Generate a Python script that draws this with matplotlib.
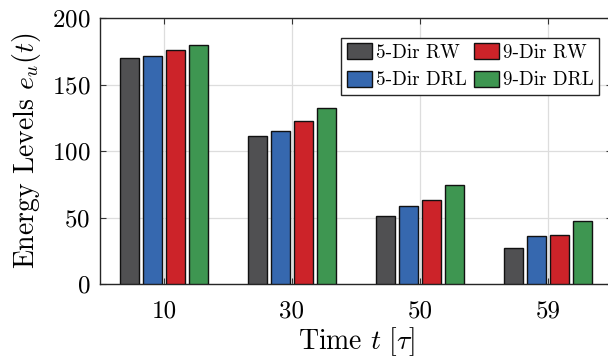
import matplotlib
matplotlib.use("Agg")
import matplotlib.pyplot as plt
import numpy as np

# values
time_labels = ["10", "30", "50", "59"]
series_names = ["5-Dir RW", "5-Dir DRL", "9-Dir RW", "9-Dir DRL"]
rw5 = [170.0, 111.0, 51.0, 27.0]
drl5 = [171.7, 115.3, 58.6, 36.0]
rw9 = [175.7, 122.3, 62.9, 37.0]
drl9 = [179.5, 132.0, 74.2, 47.1]
colors = ["#505052", "#3668AF", "#CC2329", "#3E9651"]

plt.rcParams["font.family"] = "cmr10"
plt.rcParams["mathtext.fontset"] = "cm"
plt.rcParams["axes.formatter.use_mathtext"] = True

fig = plt.figure(figsize=(6.08, 3.60), dpi=100)
# right spine falls just outside the canvas, as in the reference
ax = fig.add_axes([100 / 608, 76 / 360, 512 / 608, 266 / 360])

x = np.arange(1, len(time_labels) + 1)
width = 0.148
step = 0.182
series = [rw5, drl5, rw9, drl9]
for i, (vals, name, c) in enumerate(zip(series, series_names, colors)):
    ax.bar(x + (i - 1.5) * step, vals, width, color=c, edgecolor="#111111",
           linewidth=1.0, label=name, zorder=3)

ax.set_xlim(0.5, 4.5)
ax.set_ylim(0, 200)
ax.set_xticks(x)
ax.set_xticklabels(time_labels)
ax.set_yticks([0, 50, 100, 150, 200])
ax.grid(True, color="#dddddd", linewidth=0.9, zorder=0)
ax.set_axisbelow(True)
ax.tick_params(direction="in", top=True, right=True, labelsize=18,
               length=4, width=0.8, color="#333333")
ax.tick_params(axis="x", pad=12)
ax.tick_params(axis="y", pad=7)
for s in ax.spines.values():
    s.set_color("#262626")
    s.set_linewidth(1.0)

ax.set_ylabel(r"Energy Levels $e_u(t)$", fontsize=20, labelpad=6)
ax.set_xlabel(r"Time $t\ [\tau]$", fontsize=20, labelpad=2)

leg = ax.legend(ncol=2, loc="upper left", bbox_to_anchor=(241 / 512, 0.926),
                fontsize=13.8, fancybox=False, edgecolor="#262626",
                framealpha=1, handlelength=1.3, handleheight=0.9,
                handletextpad=0.2, columnspacing=0.4, labelspacing=0.45,
                borderpad=0.3, borderaxespad=0)
leg.get_frame().set_linewidth(1.0)

fig.savefig("out.png", dpi=100)
